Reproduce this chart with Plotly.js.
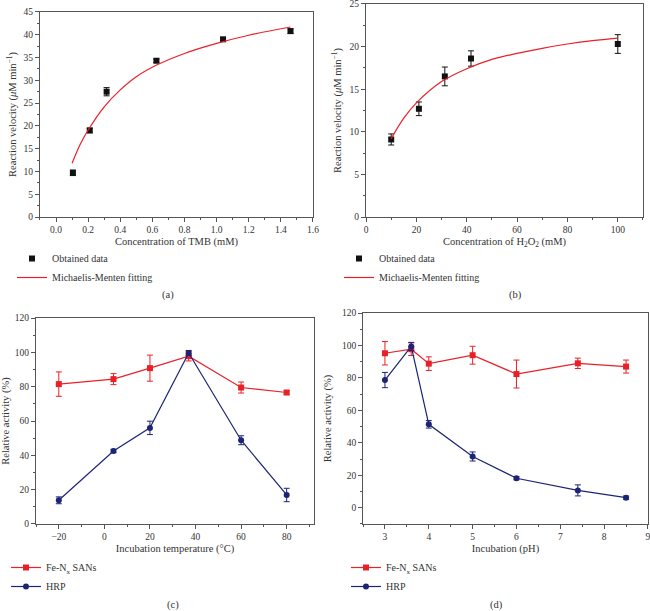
<!DOCTYPE html>
<html>
<head>
<meta charset="utf-8">
<script src="https://cdn.plot.ly/plotly-3.0.1.min.js"></script>
<style>
  body { margin: 0; background: #fff; }
  #chart { width: 650px; height: 611px; }
</style>
</head>
<body>
<div id="chart"></div>
<script>
// (a) TMB
var tmbConc = [0.105, 0.21, 0.315, 0.625, 1.04, 1.46];
var tmbRate = [9.7, 19.0, 27.5, 34.3, 39.0, 40.8];
var tmbErr = [0.6, 0.5, 0.9, 0.4, 0.4, 0.5];
var tmbFitX = [0.1, 0.15, 0.2, 0.3, 0.4, 0.5, 0.63, 0.8, 1.0, 1.2, 1.46];
var tmbFitY = [11.8, 15.9, 19.1, 24.2, 27.9, 30.8, 33.4, 35.9, 38.1, 39.9, 41.7];

// (b) H2O2
var h2o2Conc = [10, 21, 31.3, 41.7, 100];
var h2o2Rate = [9.1, 12.7, 16.5, 18.6, 20.3];
var h2o2Err = [0.65, 0.8, 1.1, 0.9, 1.1];
var h2o2FitX = [10, 15, 20, 30, 40, 50, 60, 70, 80, 90, 100];
var h2o2FitY = [9.2, 11.6, 13.4, 15.9, 17.4, 18.5, 19.2, 19.8, 20.3, 20.7, 21.0];

// (c) temperature
var temps = [-20, 4, 20, 37, 60, 80];
var feTemp = [81.5, 84.4, 90.8, 97.8, 79.5, 76.6];
var feTempErr = [7.1, 3.2, 7.6, 2.8, 3.2, 1.1];
var hrpTemp = [13.8, 42.5, 56, 99.6, 48.8, 16.9];
var hrpTempErr = [2, 1, 3.9, 1.5, 2.6, 3.9];

// (d) pH
var phs = [3, 3.6, 4, 5, 6, 7.4, 8.5];
var fePh = [95.2, 97.7, 88.8, 94, 82.4, 89, 87];
var fePhErr = [7.2, 3.9, 4.2, 5.5, 8.6, 3.2, 4];
var hrpPh = [78.7, 99.4, 51.4, 31.6, 18.2, 10.7, 6.2];
var hrpPhErr = [4.7, 2.5, 2.3, 2.8, 1, 3.4, 1];

var RED = 'rgb(232,32,40)';
var BLUE = 'rgb(28,36,118)';
var FONT = 'Liberation Serif, Times New Roman, serif';

function errs(arr, color) {
  return {type: 'data', array: arr, visible: true, color: color, thickness: 1, width: 3};
}

var data = [
  {x: tmbConc, y: tmbRate, error_y: errs(tmbErr, '#111'), mode: 'markers', name: 'Obtained data',
   marker: {symbol: 'square', size: 6, color: '#111'}, xaxis: 'x', yaxis: 'y', legend: 'legend'},
  {x: tmbFitX, y: tmbFitY, mode: 'lines', name: 'Michaelis-Menten fitting',
   line: {color: RED, width: 1.2, shape: 'spline'}, xaxis: 'x', yaxis: 'y', legend: 'legend'},

  {x: h2o2Conc, y: h2o2Rate, error_y: errs(h2o2Err, '#111'), mode: 'markers', name: 'Obtained data',
   marker: {symbol: 'square', size: 6, color: '#111'}, xaxis: 'x2', yaxis: 'y2', legend: 'legend2'},
  {x: h2o2FitX, y: h2o2FitY, mode: 'lines', name: 'Michaelis-Menten fitting',
   line: {color: RED, width: 1.2, shape: 'spline'}, xaxis: 'x2', yaxis: 'y2', legend: 'legend2'},

  {x: temps, y: feTemp, error_y: errs(feTempErr, RED), mode: 'lines+markers', name: 'Fe-N<sub>x</sub> SANs',
   marker: {symbol: 'square', size: 6, color: RED}, line: {color: RED, width: 1.2},
   xaxis: 'x3', yaxis: 'y3', legend: 'legend3'},
  {x: temps, y: hrpTemp, error_y: errs(hrpTempErr, BLUE), mode: 'lines+markers', name: 'HRP',
   marker: {symbol: 'circle', size: 6, color: BLUE}, line: {color: BLUE, width: 1.2},
   xaxis: 'x3', yaxis: 'y3', legend: 'legend3'},

  {x: phs, y: fePh, error_y: errs(fePhErr, RED), mode: 'lines+markers', name: 'Fe-N<sub>x</sub> SANs',
   marker: {symbol: 'square', size: 6, color: RED}, line: {color: RED, width: 1.2},
   xaxis: 'x4', yaxis: 'y4', legend: 'legend4'},
  {x: phs, y: hrpPh, error_y: errs(hrpPhErr, BLUE), mode: 'lines+markers', name: 'HRP',
   marker: {symbol: 'circle', size: 6, color: BLUE}, line: {color: BLUE, width: 1.2},
   xaxis: 'x4', yaxis: 'y4', legend: 'legend4'}
];

function axis(opts) {
  var a = {
    showgrid: false, zeroline: false, showline: true, mirror: true,
    linecolor: '#555', linewidth: 1, ticks: 'outside', ticklen: 4, tickcolor: '#555',
    ticklabeloverflow: 'allow',
    tickfont: {family: FONT, size: 9.5, color: '#333'},
    minor: {ticks: 'outside', ticklen: 2, tickcolor: '#555', dtick: opts.dtick / 2},
    title: {text: opts.title, standoff: opts.standoff, font: {family: FONT, size: 10.5, color: '#333'}}
  };
  for (var k in opts) if (k !== 'title' && k !== 'standoff') a[k] = opts[k];
  return a;
}

function leg(x, y) {
  return {x: x / 650, y: 1 - y / 611, xanchor: 'left', yanchor: 'top', bgcolor: 'rgba(0,0,0,0)',
    font: {family: FONT, size: 10, color: '#333'}, tracegroupgap: 0};
}

function caption(text, x, y) {
  return {text: text, xref: 'paper', yref: 'paper', x: x / 650, y: 1 - y / 611,
    xanchor: 'center', yanchor: 'middle',
    showarrow: false, font: {family: FONT, size: 10.5, color: '#333'}};
}

var layout = {
  width: 650, height: 611,
  margin: {l: 0, r: 0, t: 0, b: 0},
  paper_bgcolor: '#fff', plot_bgcolor: '#fff',
  xaxis: axis({domain: [0.0615, 0.4815], anchor: 'y', range: [-0.1, 1.6], dtick: 0.2, tickformat: '.1f',
    title: 'Concentration of TMB (mM)', standoff: 3}),
  yaxis: axis({domain: [0.6448, 0.9804], anchor: 'x', range: [0, 45], dtick: 5,
    title: 'Reaction velocity (<i>μ</i>M min<sup>−1</sup>)', standoff: 4}),
  xaxis2: axis({domain: [0.5631, 0.9892], anchor: 'y2', range: [0, 110], dtick: 20,
    title: 'Concentration of H<sub>2</sub>O<sub>2</sub> (mM)', standoff: 3}),
  yaxis2: axis({domain: [0.6448, 0.9935], anchor: 'x2', range: [0, 25], dtick: 5,
    title: 'Reaction velocity (<i>μ</i>M min<sup>−1</sup>)', standoff: 5}),
  xaxis3: axis({domain: [0.0554, 0.4831], anchor: 'y3', range: [-30, 92], dtick: 20,
    title: 'Incubation temperature (°C)', standoff: 3}),
  yaxis3: axis({domain: [0.1424, 0.4795], anchor: 'x3', range: [0, 120], dtick: 20,
    title: 'Relative activity (%)', standoff: 8}),
  xaxis4: axis({domain: [0.5585, 0.9969], anchor: 'y4', range: [2.5, 9], dtick: 1,
    title: 'Incubation (pH)', standoff: 3}),
  yaxis4: axis({domain: [0.1424, 0.4877], anchor: 'x4', range: [-10, 120], dtick: 20,
    title: 'Relative activity (%)', standoff: 8}),
  legend: leg(12, 244),
  legend2: leg(339, 244),
  legend3: leg(6, 553),
  legend4: leg(346, 553),
  annotations: [
    caption('(a)', 168, 295),
    caption('(b)', 515, 295),
    caption('(c)', 173, 605),
    caption('(d)', 496, 605)
  ],
  showlegend: true
};

Plotly.newPlot('chart', data, layout, {displayModeBar: false, staticPlot: true});
</script>
</body>
</html>
